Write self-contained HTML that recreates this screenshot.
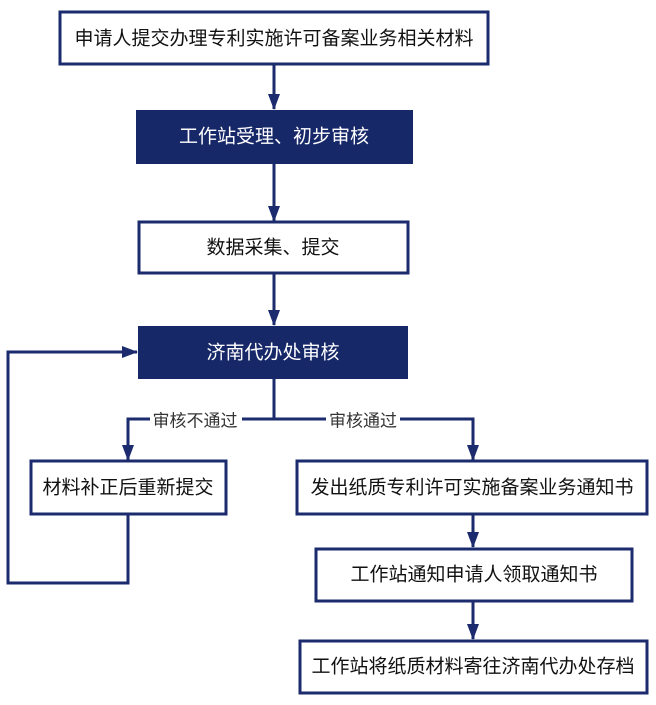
<!DOCTYPE html>
<html><head><meta charset="utf-8"><style>
html,body{margin:0;padding:0;background:#fff;width:656px;height:705px;overflow:hidden}
text{font-family:"Liberation Sans","Noto Sans CJK SC",sans-serif;font-size:19px;dominant-baseline:central;text-anchor:middle}
</style></head><body>
<svg width="656" height="705" viewBox="0 0 656 705" xmlns="http://www.w3.org/2000/svg">
<defs>
<marker id="r" markerWidth="16" markerHeight="12" refX="15" refY="6" orient="0" markerUnits="userSpaceOnUse" viewBox="0 0 16 12"><path d="M0,0 L16,6 L0,12 Z" fill="#1b2b6e"/></marker>
<marker id="d" markerWidth="12" markerHeight="16" refX="6" refY="15" markerUnits="userSpaceOnUse" viewBox="0 0 12 16"><path d="M0,0 L12,0 L6,16 Z" fill="#1b2b6e"/></marker></defs>
<g fill="none" stroke="#1b2b6e" stroke-width="3">
<line x1="274" y1="64" x2="274" y2="109" marker-end="url(#d)"/>
<line x1="274" y1="164" x2="274" y2="221" marker-end="url(#d)"/>
<line x1="274" y1="273" x2="274" y2="325" marker-end="url(#d)"/>
<polyline points="274,379 274,419 128,419 128,460" marker-end="url(#d)"/>
<polyline points="274,419 473,419 473,460" marker-end="url(#d)"/>
<line x1="473" y1="514" x2="473" y2="547" marker-end="url(#d)"/>
<line x1="473" y1="601" x2="473" y2="639" marker-end="url(#d)"/>
<polyline points="128,514 128,583 8,583 8,352 137,352" marker-end="url(#r)"/>
<rect x="60" y="12" width="428" height="52" fill="#fff"/>
<rect x="139" y="222" width="269" height="51" fill="#fff"/>
<rect x="31" y="461" width="195" height="53" fill="#fff"/>
<rect x="297" y="461" width="350" height="53" fill="#fff"/>
<rect x="316" y="549" width="316" height="52" fill="#fff"/>
<rect x="300" y="641" width="347" height="52" fill="#fff"/>
</g>
<rect x="136" y="110" width="277" height="54" fill="#172868"/>
<rect x="138" y="326" width="270" height="53" fill="#172868"/>
<rect x="150" y="408" width="92" height="22" fill="#fff"/>
<rect x="326" y="408" width="74" height="22" fill="#fff"/>
<text x="274" y="39" fill="#111">申请人提交办理专利实施许可备案业务相关材料</text>
<text x="274" y="137" fill="#fff">工作站受理、初步审核</text>
<text x="273" y="248" fill="#111">数据采集、提交</text>
<text x="273" y="353" fill="#fff">济南代办处审核</text>
<text x="195" y="421" fill="#333" style="font-size:17px">审核不通过</text>
<text x="363" y="421" fill="#333" style="font-size:17px">审核通过</text>
<text x="128" y="488" fill="#111">材料补正后重新提交</text>
<text x="472" y="488" fill="#111">发出纸质专利许可实施备案业务通知书</text>
<text x="474" y="575" fill="#111">工作站通知申请人领取通知书</text>
<text x="473" y="667" fill="#111">工作站将纸质材料寄往济南代办处存档</text>
</svg>
</body></html>
